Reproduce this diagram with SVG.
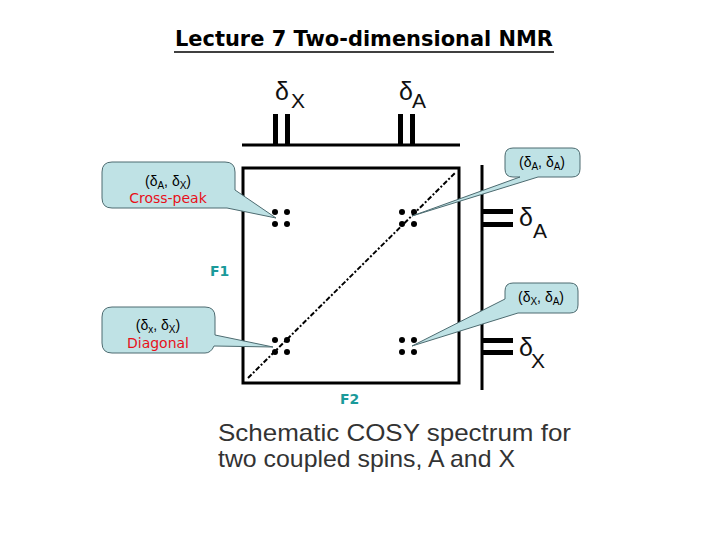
<svg xmlns="http://www.w3.org/2000/svg" width="720" height="540" viewBox="0 0 720 540">
<style>
.ax{stroke:#000;stroke-width:3;fill:none}
.pk{fill:#000}
.dot{fill:#000}
.call{fill:#bfe2e5;stroke:#4d6b70;stroke-width:1}
.ct{font-family:"Liberation Sans",Arial,sans-serif;font-size:14px;fill:#000;text-anchor:middle}
.sub{font-size:10px}
.red{font-family:"DejaVu Sans",sans-serif;font-size:14px;fill:#e8101a;text-anchor:middle}
.dl{font-family:"Liberation Sans",Arial,sans-serif;fill:#111}
.fl{font-family:"DejaVu Sans",sans-serif;font-weight:bold;font-size:14px;fill:#1a9a9a}
.cap{font-family:"Liberation Sans",Arial,sans-serif;font-size:24px;fill:#333}
</style>
<rect width="720" height="540" fill="#fff"/>
<g id="title">
<text x="364" y="46" font-family="'DejaVu Sans',sans-serif" font-weight="bold" font-size="21" text-anchor="middle" textLength="378" lengthAdjust="spacingAndGlyphs">Lecture 7 Two-dimensional NMR</text>
<line x1="174" y1="52" x2="554" y2="52" stroke="#000" stroke-width="1.5"/>
</g>
<g id="top-spectrum">
<line class="ax" x1="242" y1="145" x2="460" y2="145"/>
<rect class="pk" x="273" y="114" width="5" height="31"/>
<rect class="pk" x="285" y="114" width="5" height="31"/>
<rect class="pk" x="398" y="114" width="5" height="31"/>
<rect class="pk" x="410" y="114" width="5" height="31"/>
<text class="dl" x="275" y="100" font-size="25">δ</text>
<text class="dl" x="291" y="108" font-size="21">X</text>
<text class="dl" x="399" y="100" font-size="25">δ</text>
<text class="dl" x="412" y="108" font-size="21">A</text>
</g>
<g id="right-spectrum">
<line class="ax" x1="482" y1="165" x2="482" y2="390"/>
<rect class="pk" x="482" y="209" width="31" height="5"/>
<rect class="pk" x="482" y="222" width="31" height="5"/>
<rect class="pk" x="482" y="338" width="31" height="5"/>
<rect class="pk" x="482" y="350" width="31" height="5"/>
<text class="dl" x="519" y="226" font-size="25">δ</text>
<text class="dl" x="533" y="238" font-size="21">A</text>
<text class="dl" x="519" y="356" font-size="25">δ</text>
<text class="dl" x="531" y="368" font-size="21">X</text>
</g>
<g id="plot">
<rect class="ax" x="243" y="168" width="216" height="215"/>
<line x1="248" y1="378" x2="456" y2="172" stroke="#000" stroke-width="2" stroke-dasharray="5 2 2 2"/>
<g id="peaks">
<circle class="dot" cx="275" cy="212" r="3"/><circle class="dot" cx="287" cy="212" r="3"/>
<circle class="dot" cx="275" cy="224" r="3"/><circle class="dot" cx="287" cy="224" r="3"/>
<circle class="dot" cx="402" cy="212" r="3"/><circle class="dot" cx="414" cy="212" r="3"/>
<circle class="dot" cx="402" cy="224" r="3"/><circle class="dot" cx="414" cy="224" r="3"/>
<circle class="dot" cx="275" cy="340" r="3"/><circle class="dot" cx="287" cy="340" r="3"/>
<circle class="dot" cx="275" cy="352" r="3"/><circle class="dot" cx="287" cy="352" r="3"/>
<circle class="dot" cx="402" cy="340" r="3"/><circle class="dot" cx="414" cy="340" r="3"/>
<circle class="dot" cx="402" cy="352" r="3"/><circle class="dot" cx="414" cy="352" r="3"/>
</g>
</g>
<g id="axis-labels">
<text class="fl" x="210" y="276">F1</text>
<text class="fl" x="340" y="404">F2</text>
</g>
<g id="callout-crosspeak">
<path class="call" d="M112,162 H225 Q235,162 235,172 V190 L276,218 L227,208 H112 Q102,208 102,198 V172 Q102,162 112,162 Z"/>
<text class="ct" x="168" y="186">(δ<tspan class="sub" dy="3">A</tspan><tspan dy="-3">, δ</tspan><tspan class="sub" dy="3">X</tspan><tspan dy="-3">)</tspan></text>
<text class="red" x="168" y="203">Cross-peak</text>
</g>
<g id="callout-diagonal">
<path class="call" d="M112,307 H205 Q215,307 215,317 V335 L273,347 L214,346 Q211,353 205,353 H112 Q102,353 102,343 V317 Q102,307 112,307 Z"/>
<text class="ct" x="158" y="330">(δ<tspan class="sub" dy="3">x</tspan><tspan dy="-3">, δ</tspan><tspan class="sub" dy="3">X</tspan><tspan dy="-3">)</tspan></text>
<text class="red" x="158" y="348">Diagonal</text>
</g>
<g id="callout-AA">
<path class="call" d="M513,148 H572 Q580,148 580,156 V169 Q580,177 572,177 H538 L412,216 L520,177 H513 Q505,177 505,169 V156 Q505,148 513,148 Z"/>
<text class="ct" x="542" y="167">(δ<tspan class="sub" dy="3">A</tspan><tspan dy="-3">, δ</tspan><tspan class="sub" dy="3">A</tspan><tspan dy="-3">)</tspan></text>
</g>
<g id="callout-XA">
<path class="call" d="M513,283 H570 Q578,283 578,291 V305 Q578,313 570,313 H518 L412,346 L505,299 V291 Q505,283 513,283 Z"/>
<text class="ct" x="541" y="302">(δ<tspan class="sub" dy="3">X</tspan><tspan dy="-3">, δ</tspan><tspan class="sub" dy="3">A</tspan><tspan dy="-3">)</tspan></text>
</g>
<g id="caption">
<text class="cap" x="218" y="441" textLength="353" lengthAdjust="spacingAndGlyphs">Schematic COSY spectrum for</text>
<text class="cap" x="218" y="467" textLength="297" lengthAdjust="spacingAndGlyphs">two coupled spins, A and X</text>
</g>
</svg>
